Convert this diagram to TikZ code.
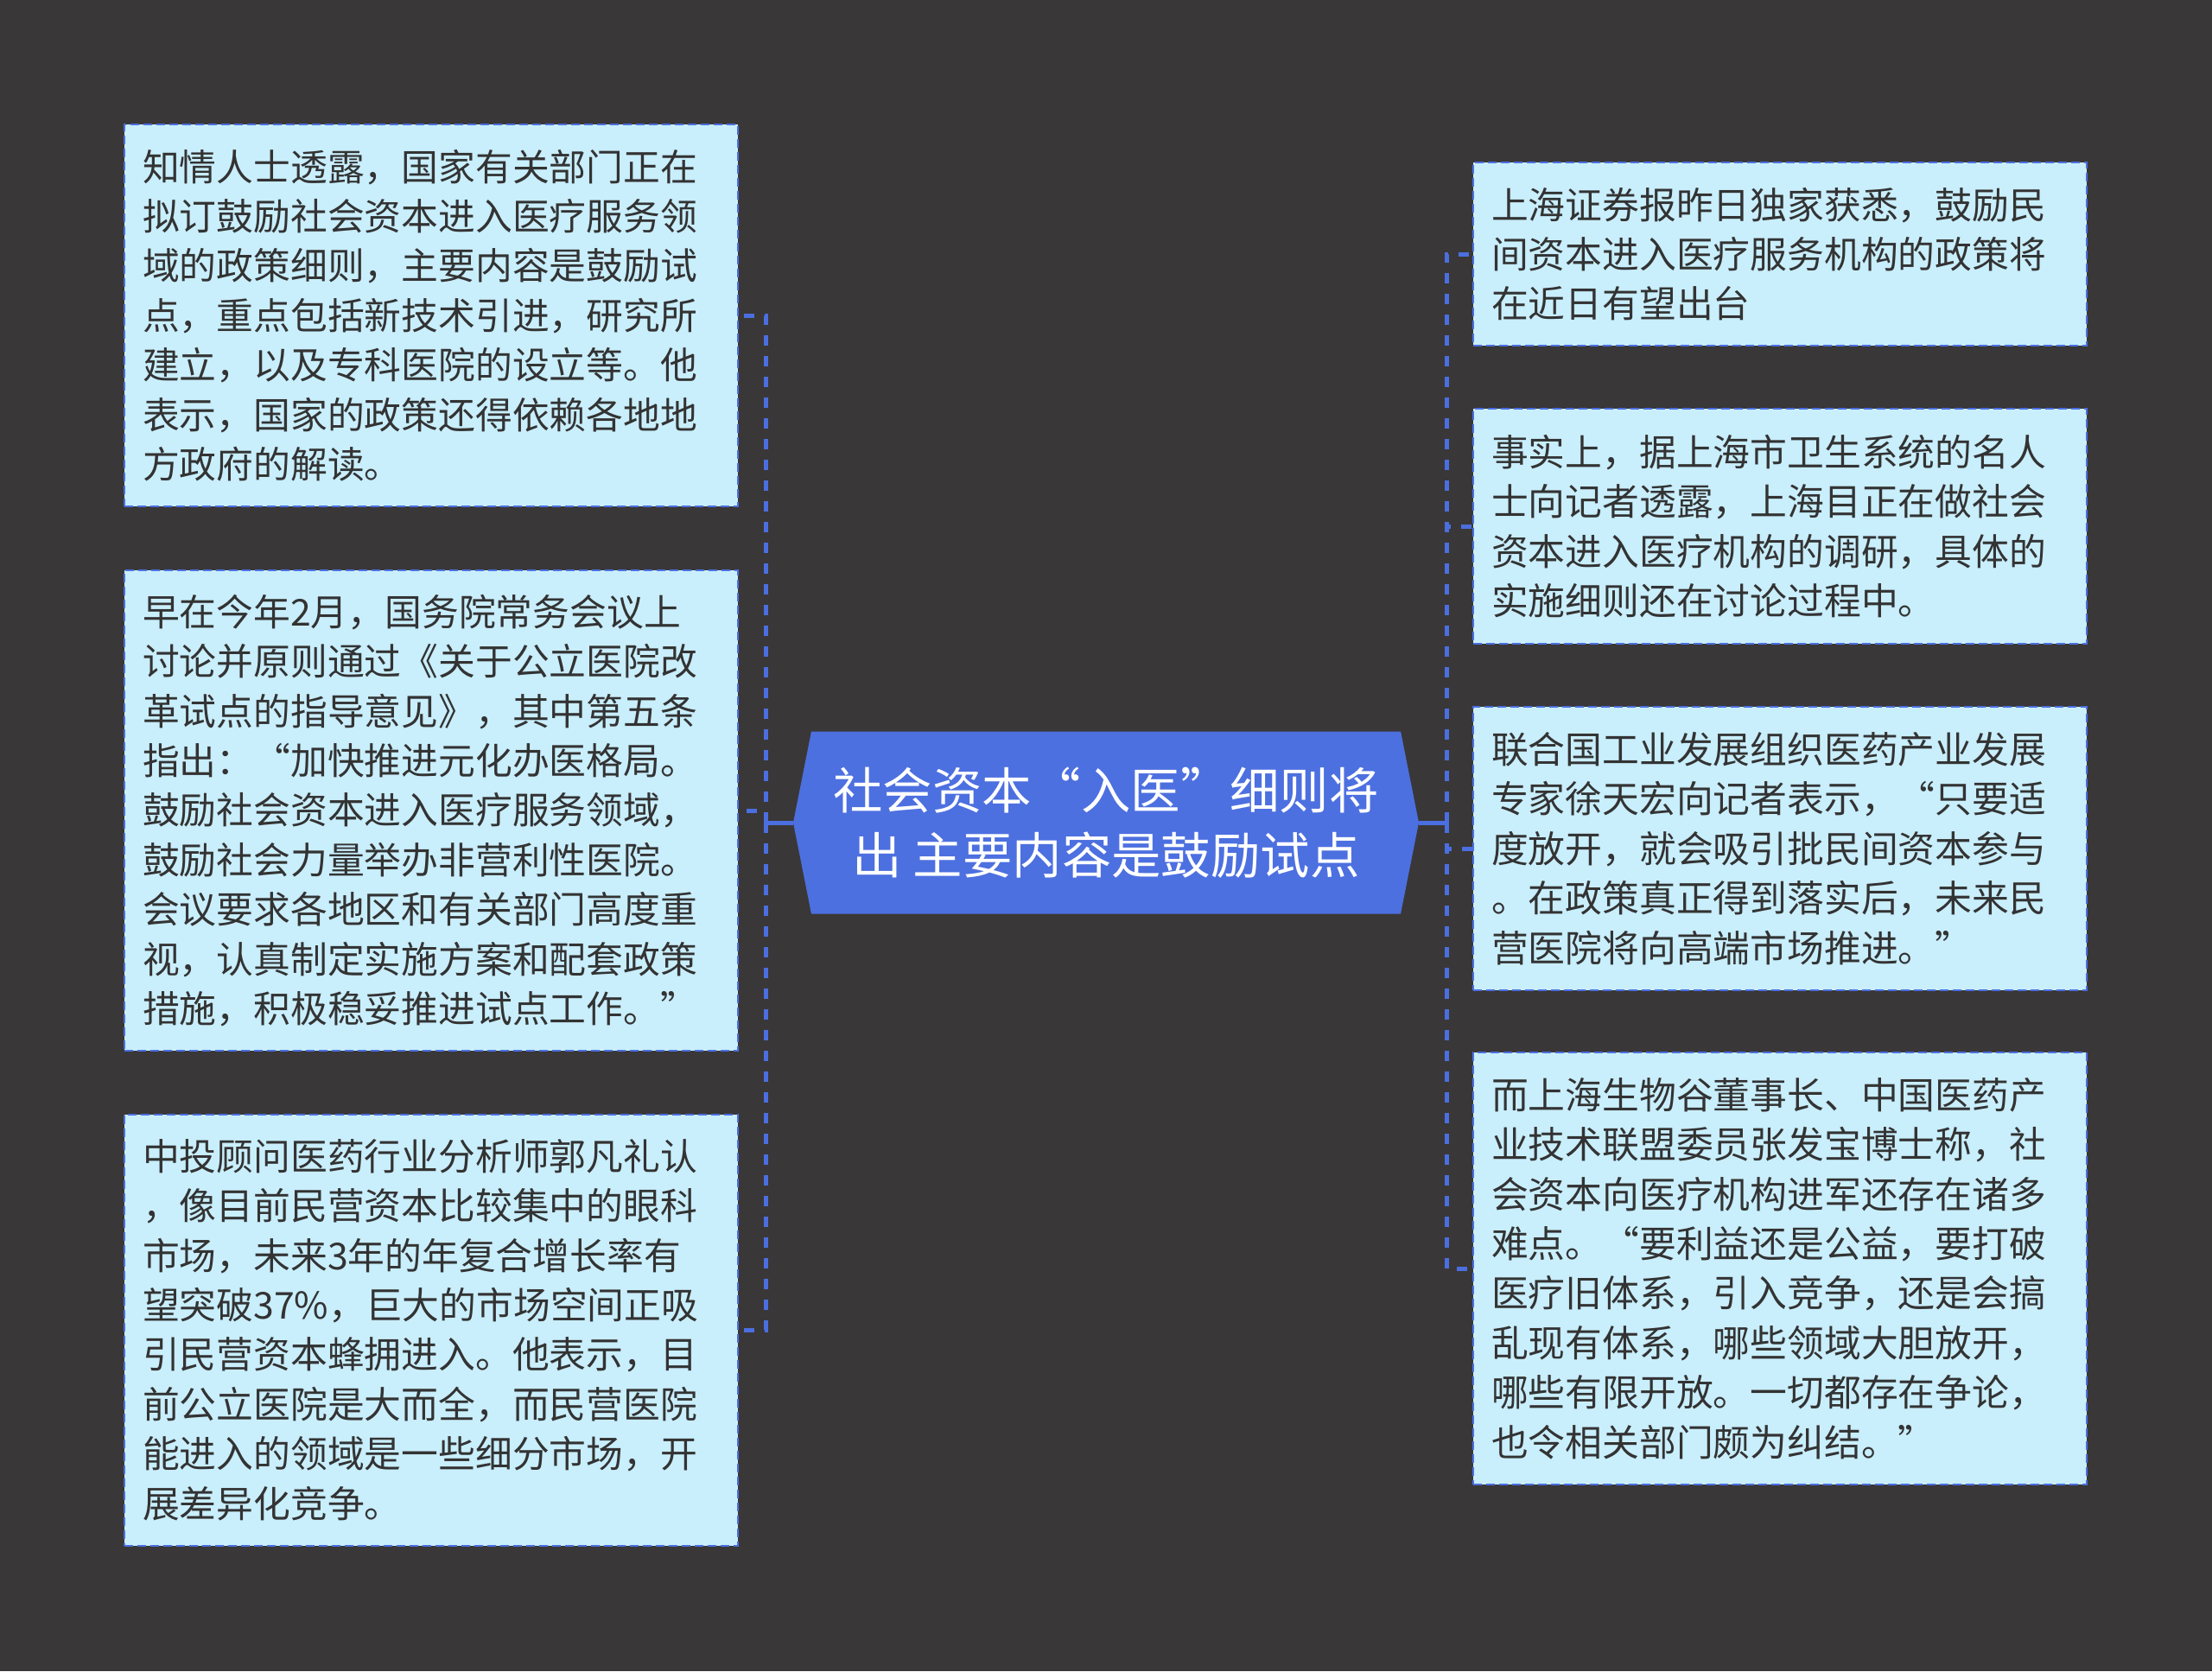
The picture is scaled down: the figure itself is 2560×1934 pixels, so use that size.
\documentclass[tikz,border=0pt]{standalone}
\usepackage{fontspec}
\newfontfamily\cjk{Noto Sans CJK SC}
\usepackage{xcolor}
\usepackage{tikz}
\usetikzlibrary{
	shapes.symbols,
	positioning,
	calc
}
\definecolor{bgdark}{HTML}{393738}
\definecolor{leafcyan}{HTML}{C9EEFC}
\definecolor{linkblue}{HTML}{4B6FE0}
\definecolor{topicblue}{HTML}{4D70E0}
\definecolor{textgray}{HTML}{333333}

\begin{document}
\begin{tikzpicture}[
				x=0.5pt, y=-0.5pt,
				leaf/.style={
					rectangle, draw=linkblue, fill=leafcyan,
					line width=1pt, dash pattern=on 5pt off 2.5pt,
					text=textgray, text width=334pt,
					inner xsep=10.5pt, inner ysep=8pt,
					align=left, font=\cjk\fontsize{21.4pt}{28.7pt}\selectfont
				},
				topic/.style={
					shape=signal, signal to=west and east,
					signal pointer angle=157.5,
					fill=topicblue, draw=none, text=white,
					minimum width=362pt, minimum height=105.5pt,
					align=center, font=\cjk\fontsize{28.7pt}{37.5pt}\selectfont
				},
				stem/.style={linkblue, line width=2.5pt},
				link/.style={stem, dash pattern=on 6pt off 6pt}
				]
				
				% background
				\fill[bgdark] (0,0) rectangle (2560,1934);
				\useasboundingbox (0,0) rectangle (2560,1934);
				
				% central topic
				\node[topic] (topic) at (1280,952) {社会资本“入医”细则将\\出 主要内容是鼓励试点};
				
				% hubs of the branch lines
				\coordinate (lhub) at (886,952);
				\coordinate (rhub) at (1674,952);
				
				% left branches
				\node[leaf, minimum height=221pt] (policy) at (499,365) {知情人士透露，国家有关部门正在\\拟订鼓励社会资本进入医疗服务领\\域的政策细则，主要内容是鼓励试\\点，重点包括新技术引进，研究所\\建立，以及专科医院的设立等。他\\表示，国家的政策还得依赖各地地\\方政府的解读。};
				
				\node[leaf, minimum height=278pt] (council) at (499,938) {早在今年2月，国务院常务会议上\\讨论并原则通过《关于公立医院改\\革试点的指导意见》，其中第五条\\指出：“加快推进元化办医格局。\\鼓励社会资本进入医疗服务领域，\\鼓励社会力量举办非营利性医院。\\会议要求各地区和有关部门高度重\\视，认真制定实施方案和配套政策\\措施，积极稳妥推进试点工作。”};
				
				\node[leaf, minimum height=249.5pt] (analyst) at (499,1539) {中投顾问医药行业分析师郭凡礼认\\，像目前民营资本比较集中的眼科\\市场，未来3年的年复合增长率有\\望突破37\%，巨大的市场空间正吸\\引民营资本蜂拥进入。他表示，目\\前公立医院是大而全，而民营医院\\能进入的领域是一些细分市场，开\\展差异化竞争。};
				
				% right branches
				\node[leaf, minimum height=106pt] (report) at (2060,294) {上海证券报昨日独家获悉，鼓励民\\间资本进入医疗服务机构的政策将\\在近日有望出台};
				
				\node[leaf, minimum height=136pt] (survey) at (2060,609) {事实上，据上海市卫生系统的名人\\士向记者透露，上海目正在做社会\\资本进入医疗机构的调研，具体的\\实施细则还在讨论过程中。};
				
				\node[leaf, minimum height=164pt] (expert) at (2060,982) {联合国工业发展组织医药产业发展\\专家徐天宏向记者表示，“只要适\\度放开，就会吸引批民间资本参与\\。在政策真正得到落实后，未来民\\营医院将向高端市场推进。”};
				
				\node[leaf, minimum height=250pt] (biovalley) at (2060,1468) {而上海生物谷董事长、中国医药产\\业技术联盟委员张发宝博士称，社\\会资本向医疗机构进军还存在诸多\\难点。“要利益还是公益，要打破\\医疗旧体系，引入竞争，还是会搞\\乱现有体系，哪些领域大胆放开，\\哪些有限开放。一切都存在争论，\\也令相关部门颇为纠结。”};
				
				% connectors
				\draw[stem] (topic.west) -- (lhub);
				\draw[stem] (topic.east) -- (rhub);
				\foreach \leafname in {policy, council, analyst}
					\draw[link] (lhub) |- (\leafname.east);
				\foreach \leafname in {report, survey, expert, biovalley}
					\draw[link] (rhub) |- (\leafname.west);
			\end{tikzpicture}
\end{document}
